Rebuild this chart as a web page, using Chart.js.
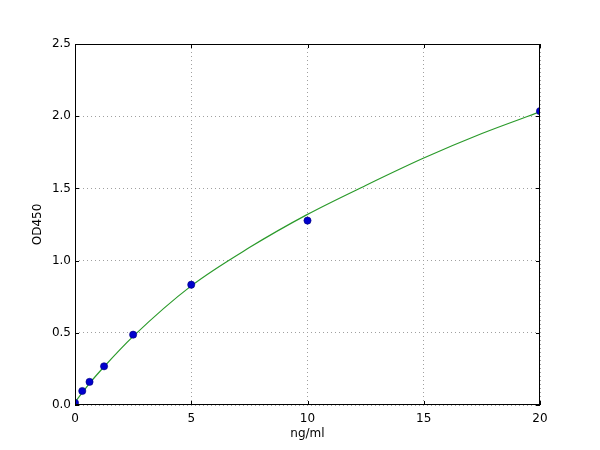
<!DOCTYPE html>
<html>
<head>
<meta charset="utf-8">
<script src="https://cdn.jsdelivr.net/npm/chart.js@4"></script>
<style>
    html, body { margin: 0; padding: 0; background: #ffffff; }
    #box { width: 600px; height: 450px; }
</style>
</head>
<body>
<div id="box"><canvas id="grafico"></canvas></div>
<script>
// standard points
const concentrations = [0, 0.3125, 0.625, 1.25, 2.5, 5, 10, 20];
const od450 = [0.015, 0.097, 0.16, 0.268, 0.487, 0.833, 1.277, 2.035];

// fitted curve
const fitX = [0, 0.3125, 0.625, 1.25, 2.5, 5, 7.5, 10, 12.5, 15, 17.5, 20];
const fitY = [0.02, 0.085, 0.15, 0.265, 0.475, 0.825, 1.09, 1.32, 1.52, 1.71, 1.88, 2.03];

const xTicks = [0, 5, 10, 15, 20];
const yTicks = [0, 0.5, 1.0, 1.5, 2.0, 2.5];

const fonte = { family: "'DejaVu Sans', sans-serif", size: 12 };

// matplotlib-like frame and inward ticks
const moldura = {
    id: "moldura",
    afterDraw: function (chart) {
        const ctx = chart.ctx;
        const area = chart.chartArea;
        const x = chart.scales.x;
        const y = chart.scales.y;
        ctx.save();
        ctx.strokeStyle = "#000000";
        ctx.lineWidth = 1;
        ctx.beginPath();
        xTicks.forEach(function (v) {
            const px = Math.round(x.getPixelForValue(v)) + 0.5;
            ctx.moveTo(px, area.bottom);
            ctx.lineTo(px, area.bottom - 4);
            ctx.moveTo(px, area.top);
            ctx.lineTo(px, area.top + 4);
        });
        yTicks.forEach(function (v) {
            const py = Math.round(y.getPixelForValue(v)) + 0.5;
            ctx.moveTo(area.left, py);
            ctx.lineTo(area.left + 4, py);
            ctx.moveTo(area.right, py);
            ctx.lineTo(area.right - 4, py);
        });
        ctx.stroke();
        ctx.strokeRect(area.left + 0.5, area.top + 0.5, area.right - area.left - 1, area.bottom - area.top - 1);
        ctx.restore();
    }
};

new Chart(document.getElementById("grafico"), {
    type: "scatter",
    data: {
        datasets: [{
            label: "pontos",
            data: concentrations.map(function (c, i) { return { x: c, y: od450[i] }; }),
            backgroundColor: "#0000cc",
            borderColor: "#00007a",
            borderWidth: 0.6,
            pointRadius: 3.6,
            order: 0
        }, {
            label: "curva",
            type: "line",
            data: fitX.map(function (c, i) { return { x: c, y: fitY[i] }; }),
            borderColor: "#2a9a2a",
            borderWidth: 1.2,
            pointRadius: 0,
            fill: false,
            cubicInterpolationMode: "monotone",
            order: 1
        }]
    },
    options: {
        responsive: true,
        maintainAspectRatio: false,
        animation: false,
        devicePixelRatio: 1,
        layout: {
            padding: { top: 44, right: 60, left: 0, bottom: 0 }
        },
        plugins: {
            legend: { display: false },
            tooltip: { enabled: false }
        },
        scales: {
            x: {
                type: "linear",
                min: 0,
                max: 20,
                afterBuildTicks: function (scale) {
                    scale.ticks = xTicks.map(function (v) { return { value: v }; });
                },
                afterFit: function (scale) {
                    scale.height = 45;
                },
                ticks: {
                    color: "#000000",
                    font: fonte,
                    padding: 7,
                    maxRotation: 0,
                    callback: function (v) { return String(v); }
                },
                grid: {
                    color: "#a0a0a0",
                    drawTicks: false
                },
                border: {
                    display: false,
                    dash: [1, 3]
                },
                title: {
                    display: true,
                    text: "ng/ml",
                    color: "#000000",
                    font: fonte,
                    padding: { top: 2, bottom: 9 }
                }
            },
            y: {
                type: "linear",
                min: 0,
                max: 2.5,
                afterBuildTicks: function (scale) {
                    scale.ticks = yTicks.map(function (v) { return { value: v }; });
                },
                afterFit: function (scale) {
                    scale.width = 75;
                },
                ticks: {
                    color: "#000000",
                    font: fonte,
                    padding: 4,
                    callback: function (v) { return Number(v).toFixed(1); }
                },
                grid: {
                    color: "#a0a0a0",
                    drawTicks: false
                },
                border: {
                    display: false,
                    dash: [1, 3]
                },
                title: {
                    display: true,
                    text: "OD450",
                    color: "#000000",
                    font: fonte,
                    padding: { top: 31, bottom: 0 }
                }
            }
        }
    },
    plugins: [moldura]
});
</script>
</body>
</html>
